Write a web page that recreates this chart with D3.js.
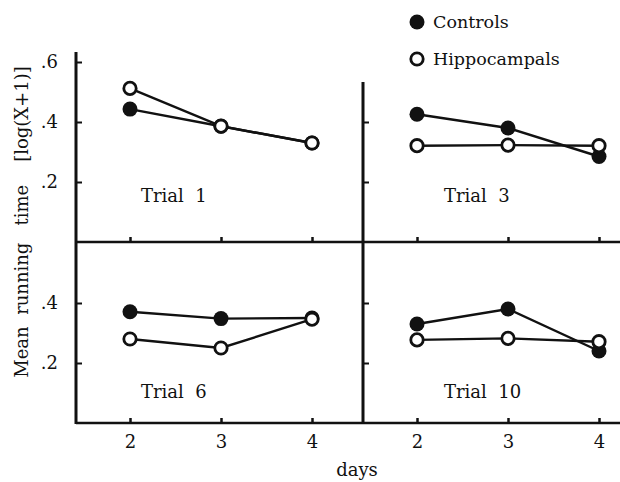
<!DOCTYPE html>
<html>
<head>
<meta charset="utf-8">
<script src="https://cdn.jsdelivr.net/npm/d3@7"></script>
<style>
  body { margin: 0; background: #fff; }
  svg text { font-family: "DejaVu Serif", "Liberation Serif", serif; fill: #111; white-space: pre; }
</style>
</head>
<body>
<svg width="620" height="482"></svg>
<script>
const days = [2, 3, 4];
const trials = ['Trial  1', 'Trial  3', 'Trial  6', 'Trial  10'];
const controls = [
  [0.443, 0.386, 0.330],
  [0.426, 0.380, 0.285],
  [0.371, 0.348, 0.350],
  [0.330, 0.380, 0.240]
];
const hippocampals = [
  [0.512, 0.386, 0.330],
  [0.321, 0.323, 0.321],
  [0.280, 0.250, 0.346],
  [0.277, 0.282, 0.271]
];
const yTicksTopLeft = [0.2, 0.4, 0.6];
const yTicksOther = [0.2, 0.4];
const seriesNames = ['Controls', 'Hippocampals'];

const svg = d3.select('svg');
const width = +svg.attr('width');
const font = '"DejaVu Serif", "Liberation Serif", serif';

// panel geometry
const colLeft = [76, 363];
const rowBottom = [242, 423];
const axisTop = [52, 82];

const xScale = d3.scaleLinear().domain([2, 4]).range([54, 236]);
const yScale = d3.scaleLinear().domain([0, 0.6]).range([0, -180]);
const tickFmt = d => d3.format('.1f')(d).replace(/^0/, '');

// frame lines
rowBottom.forEach(y => {
  svg.append('line')
    .attr('x1', colLeft[0]).attr('x2', width)
    .attr('y1', y).attr('y2', y)
    .attr('stroke', '#111').attr('stroke-width', 2.5);
});
colLeft.forEach((x, i) => {
  svg.append('line')
    .attr('x1', x).attr('x2', x)
    .attr('y1', axisTop[i]).attr('y2', rowBottom[1] + 1)
    .attr('stroke', '#111').attr('stroke-width', 3);
});

trials.forEach((trial, i) => {
  const row = Math.floor(i / 2);
  const col = i % 2;
  const g = svg.append('g')
    .attr('transform', `translate(${colLeft[col]}, ${rowBottom[row]})`);

  // x ticks (inward)
  const xAxis = d3.axisBottom(xScale)
    .tickValues(days)
    .tickSize(-5)
    .tickSizeOuter(0)
    .tickPadding(12)
    .tickFormat(row === 1 ? d3.format('d') : '');
  const xg = g.append('g').call(xAxis).attr('font-family', font).attr('font-size', 18);
  xg.select('.domain').remove();
  xg.selectAll('line').attr('stroke', '#111').attr('stroke-width', 2.5);

  // y ticks (inward)
  const yAxis = d3.axisLeft(yScale)
    .tickValues(i === 0 ? yTicksTopLeft : yTicksOther)
    .tickSize(-6)
    .tickSizeOuter(0)
    .tickPadding(18)
    .tickFormat(col === 0 ? tickFmt : '');
  const yg = g.append('g').call(yAxis).attr('font-family', font).attr('font-size', 18);
  yg.select('.domain').remove();
  yg.selectAll('line').attr('stroke', '#111').attr('stroke-width', 2);

  const line = d3.line()
    .x((d, j) => xScale(days[j]))
    .y(d => yScale(d));

  [hippocampals[i], controls[i]].forEach(vals => {
    g.append('path')
      .attr('d', line(vals))
      .attr('fill', 'none')
      .attr('stroke', '#111')
      .attr('stroke-width', 2.4);
  });

  g.selectAll('circle.ctrl')
    .data(controls[i])
    .join('circle')
    .attr('class', 'ctrl')
    .attr('cx', (d, j) => xScale(days[j]))
    .attr('cy', d => yScale(d))
    .attr('r', 7.5)
    .attr('fill', '#111');

  g.selectAll('circle.hippo')
    .data(hippocampals[i])
    .join('circle')
    .attr('class', 'hippo')
    .attr('cx', (d, j) => xScale(days[j]))
    .attr('cy', d => yScale(d))
    .attr('r', 6.2)
    .attr('fill', '#fff')
    .attr('stroke', '#111')
    .attr('stroke-width', 2.8);

  g.append('text')
    .attr('x', col === 0 ? 65 : 81)
    .attr('y', row === 0 ? -40 : -25)
    .style('font-size', '18px')
    .text(trial);
});

// legend
const legend = svg.append('g').attr('transform', 'translate(417, 22)');
seriesNames.forEach((name, i) => {
  const item = legend.append('g').attr('transform', `translate(0, ${i * 37})`);
  item.append('circle')
    .attr('r', i === 0 ? 7.5 : 6.2)
    .attr('fill', i === 0 ? '#111' : '#fff')
    .attr('stroke', i === 0 ? 'none' : '#111')
    .attr('stroke-width', 2.8);
  item.append('text')
    .attr('x', 16)
    .attr('y', 6)
    .style('font-size', '17.5px')
    .text(name);
});

// axis titles
svg.append('text')
  .attr('transform', 'translate(28, 222) rotate(-90)')
  .style('text-anchor', 'middle')
  .style('font-size', '18px')
  .text('Mean  running   time    [log(X+1)]');

svg.append('text')
  .attr('x', 357)
  .attr('y', 476)
  .style('text-anchor', 'middle')
  .style('font-size', '18px')
  .text('days');
</script>
</body>
</html>
